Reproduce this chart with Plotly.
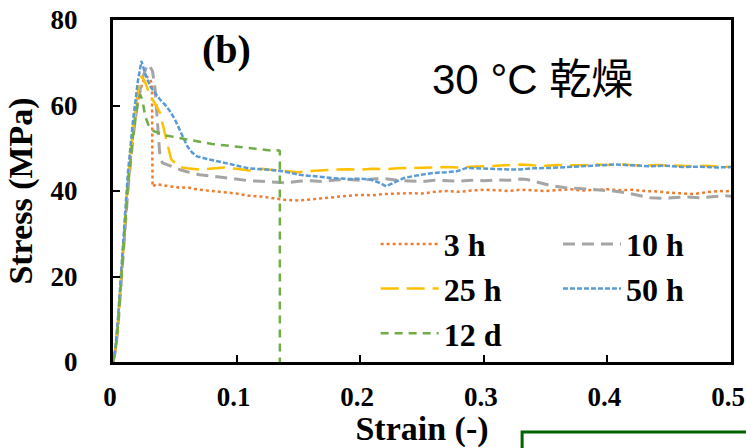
import plotly.graph_objects as go

# Stress-strain curves of specimens dried at 30 °C for different times
series_names = ["3 h", "10 h", "25 h", "50 h", "12 d"]

strain_3h = [0, 0.002, 0.004, 0.008, 0.012, 0.016, 0.020, 0.024, 0.027, 0.030, 0.0315, 0.032,
             0.035, 0.040, 0.045, 0.050, 0.055, 0.060, 0.065, 0.070, 0.080, 0.090, 0.100,
             0.110, 0.120, 0.130, 0.140, 0.150, 0.160, 0.170, 0.180, 0.190, 0.200, 0.210,
             0.220, 0.230, 0.240, 0.250, 0.260, 0.270, 0.280, 0.290, 0.300, 0.310, 0.320,
             0.330, 0.340, 0.350, 0.360, 0.370, 0.380, 0.390, 0.400, 0.410, 0.420, 0.430,
             0.440, 0.450, 0.460, 0.470, 0.480, 0.490, 0.500]
stress_3h = [0, 3.0, 9.0, 26.0, 41.0, 53.0, 61.0, 65.5, 66.8, 66.2, 65.0, 41.0,
             41.6, 41.4, 41.1, 41.0, 40.7, 40.9, 40.5, 40.3, 40.0, 39.7, 39.4,
             38.9, 38.7, 38.3, 37.9, 37.8, 38.0, 38.3, 38.6, 38.9, 39.1, 39.0,
             39.3, 39.4, 39.5, 39.4, 39.8, 40.0, 39.8, 40.1, 40.3, 40.2, 40.0,
             40.3, 40.1, 40.0, 40.2, 40.4, 40.1, 40.3, 40.4, 40.2, 40.3, 40.0,
             39.9, 39.6, 39.5, 39.3, 39.7, 40.0, 39.9]

strain_10h = [0, 0.002, 0.004, 0.008, 0.012, 0.016, 0.020, 0.024, 0.027, 0.029, 0.032, 0.034,
              0.036, 0.038, 0.040, 0.045, 0.050, 0.055, 0.060, 0.070, 0.080, 0.090, 0.100,
              0.110, 0.120, 0.130, 0.140, 0.150, 0.160, 0.170, 0.180, 0.190, 0.200, 0.210,
              0.220, 0.230, 0.240, 0.250, 0.260, 0.270, 0.280, 0.290, 0.300, 0.310, 0.320,
              0.330, 0.335, 0.340, 0.345, 0.355, 0.365, 0.375, 0.385, 0.395, 0.405, 0.415,
              0.425, 0.435, 0.445, 0.455, 0.465, 0.475, 0.485, 0.495, 0.500]
stress_10h = [0, 2.5, 8.0, 25.0, 40.0, 52.0, 61.0, 66.5, 69.0, 69.6, 68.0, 64.0,
              55.0, 48.0, 46.6, 46.0, 45.5, 44.9, 44.5, 43.8, 43.5, 43.1, 42.8,
              42.4, 42.3, 42.1, 41.9, 42.3, 42.4, 42.2, 42.6, 42.7, 42.5, 42.8,
              42.9, 42.5, 42.3, 42.2, 42.5, 42.4, 42.3, 42.5, 42.4, 42.6, 42.5,
              42.8, 42.7, 42.3, 41.9, 41.2, 40.8, 40.6, 40.4, 40.3, 40.0, 39.6,
              39.0, 38.4, 38.3, 38.5, 38.6, 38.4, 38.7, 38.9, 38.8]

strain_25h = [0, 0.002, 0.004, 0.008, 0.012, 0.016, 0.020, 0.023, 0.026, 0.030, 0.034, 0.038,
              0.043, 0.047, 0.054, 0.060, 0.070, 0.080, 0.090, 0.100, 0.110, 0.120, 0.130,
              0.140, 0.150, 0.160, 0.170, 0.180, 0.190, 0.200, 0.210, 0.220, 0.230, 0.240,
              0.250, 0.260, 0.270, 0.280, 0.290, 0.300, 0.310, 0.320, 0.330, 0.340, 0.350,
              0.360, 0.370, 0.380, 0.390, 0.400, 0.410, 0.420, 0.430, 0.440, 0.450, 0.460,
              0.470, 0.480, 0.490, 0.500]
stress_25h = [0, 3.0, 9.5, 27.0, 42.0, 54.0, 63.0, 66.9, 65.5, 62.2, 60.5, 58.3,
              52.0, 47.4, 45.6, 45.3, 45.0, 45.3, 45.5, 45.2, 44.8, 45.2, 44.9,
              44.6, 44.4, 44.7, 44.9, 45.0, 45.1, 45.0, 45.2, 45.1, 45.3, 45.4,
              45.4, 45.5, 45.6, 45.5, 45.7, 45.8, 45.9, 46.1, 46.2, 46.0, 45.9,
              46.1, 46.0, 46.0, 46.2, 46.1, 46.2, 46.0, 45.9, 46.1, 46.0, 46.0,
              45.8, 45.9, 45.7, 45.6]

strain_50h = [0, 0.002, 0.004, 0.008, 0.012, 0.016, 0.020, 0.023, 0.026, 0.030, 0.034, 0.038,
              0.042, 0.046, 0.050, 0.054, 0.060, 0.064, 0.068, 0.076, 0.084, 0.097, 0.110,
              0.124, 0.138, 0.151, 0.165, 0.178, 0.192, 0.200, 0.208, 0.215, 0.221, 0.228,
              0.235, 0.245, 0.259, 0.270, 0.278, 0.286, 0.300, 0.315, 0.327, 0.340, 0.354,
              0.368, 0.381, 0.395, 0.407, 0.420, 0.434, 0.447, 0.461, 0.475, 0.488, 0.500]
stress_50h = [0, 3.5, 10.0, 28.0, 44.0, 56.0, 65.5, 70.4, 67.5, 64.5, 63.0, 61.4,
              60.2, 58.7, 56.8, 54.4, 50.5, 49.0, 48.1, 47.5, 47.0, 46.2, 45.3,
              45.0, 44.6, 43.8, 43.3, 43.0, 42.8, 42.9, 42.7, 42.0, 41.1, 42.0,
              43.0, 43.6, 44.2, 44.4, 44.6, 45.4, 45.2, 45.1, 45.0, 45.3, 45.4,
              45.6, 45.8, 45.9, 46.2, 46.0, 45.8, 45.9, 45.6, 45.7, 45.5, 45.6]

strain_12d = [0, 0.002, 0.004, 0.008, 0.012, 0.016, 0.020, 0.022, 0.024, 0.026, 0.029, 0.033,
              0.038, 0.043, 0.050, 0.057, 0.064, 0.070, 0.080, 0.090, 0.097, 0.105, 0.115,
              0.124, 0.130, 0.134, 0.135, 0.135]
stress_12d = [0, 2.5, 8.5, 26.0, 41.0, 52.5, 60.5, 62.6, 61.0, 57.5, 55.2, 54.0,
              53.5, 53.0, 52.6, 52.2, 51.8, 51.4, 51.0, 50.7, 50.5, 50.2, 49.9,
              49.7, 49.4, 49.5, 49.3, 0]

x_ticks = [0, 0.1, 0.2, 0.3, 0.4, 0.5]
x_tick_labels = ["0", "0.1", "0.2", "0.3", "0.4", "0.5"]
y_ticks = [0, 20, 40, 60, 80]

colors = ["#ED7D31", "#A5A5A5", "#FFC000", "#5B9BD5", "#70AD47"]
dashes = ["dot", "12px,7px", "18px,8px", "5px,2px", "8px,6px"]
widths = [2.5, 3, 2.5, 2.5, 2.5]
legend_ids = ["legend", "legend2", "legend", "legend2", "legend"]

xs = [strain_3h, strain_10h, strain_25h, strain_50h, strain_12d]
ys = [stress_3h, stress_10h, stress_25h, stress_50h, stress_12d]

serif = "Liberation Serif"
fig = go.Figure()
for name, x, y, c, d, w, lg in zip(series_names, xs, ys, colors, dashes, widths, legend_ids):
    fig.add_trace(go.Scatter(x=x, y=y, mode="lines", name=name, legend=lg,
                             line=dict(color=c, dash=d, width=w)))

axis_common = dict(showline=True, linecolor="black", linewidth=3, mirror=True,
                   ticks="inside", ticklen=7, tickwidth=2, tickcolor="black",
                   showgrid=False, zeroline=False, ticklabeloverflow="allow",
                   tickfont=dict(family=serif, size=27, color="black", weight="bold"))

fig.update_xaxes(range=[0, 0.5], tickmode="array", tickvals=x_ticks, ticktext=x_tick_labels,
                 ticklabelstandoff=9, ticklabelshift=-3,
                 title=dict(text="<b>Strain (-)</b>", standoff=4,
                            font=dict(family=serif, size=34, color="black")),
                 **axis_common)
fig.update_yaxes(range=[0, 80], tickmode="array", tickvals=y_ticks, ticklabelstandoff=27,
                 title=dict(text="<b>Stress (MPa)</b>", standoff=8,
                            font=dict(family=serif, size=34, color="black")),
                 **axis_common)

legend_style = dict(font=dict(family=serif, size=32, color="black", weight="bold"),
                    bgcolor="rgba(0,0,0,0)", itemwidth=58, tracegroupgap=0,
                    xanchor="left", yanchor="top", itemclick=False)
fig.update_layout(
    width=746, height=448,
    margin=dict(l=113, r=15, t=20, b=86, autoexpand=False),
    paper_bgcolor="white", plot_bgcolor="white",
    legend=dict(x=0.425, y=0.425, **legend_style),
    legend2=dict(x=0.72, y=0.425, **legend_style),
    showlegend=True,
)

fig.add_annotation(text="<b>(b)</b>", xref="paper", yref="paper", x=0.183, y=0.915,
                   xanchor="center", yanchor="middle", showarrow=False,
                   font=dict(family=serif, size=40, color="black"))
fig.add_annotation(text="30 °C 乾燥", xref="paper", yref="paper", x=0.679, y=0.825,
                   xanchor="center", yanchor="middle", showarrow=False,
                   font=dict(family="Liberation Sans, Noto Sans CJK JP", size=42, color="black"))

# partially visible framed panel below the plot
fig.add_shape(type="rect", xref="paper", yref="paper", x0=0.662, y0=-0.205, x1=1.2, y1=-0.5,
              line=dict(color="#006400", width=3), fillcolor="rgba(0,0,0,0)")

fig.write_html("out.html")
